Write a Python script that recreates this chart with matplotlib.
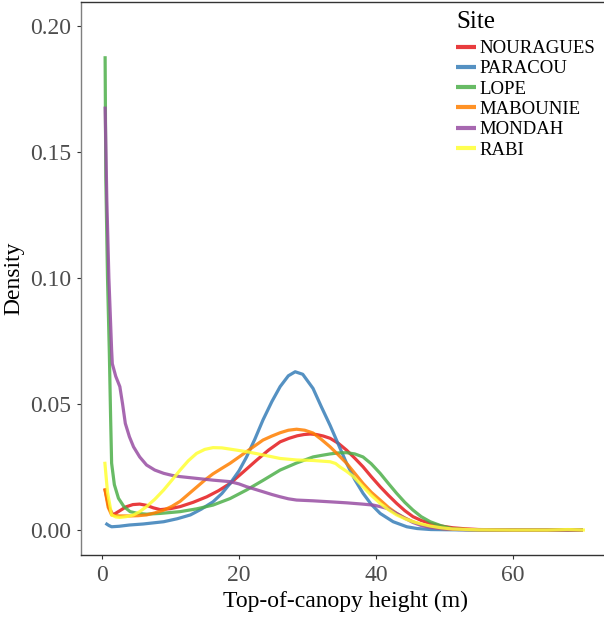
import matplotlib
matplotlib.use("Agg")
import matplotlib.pyplot as plt

plt.rcParams['font.family'] = ['Liberation Serif', 'DejaVu Serif']

sites = ["NOURAGUES", "PARACOU", "LOPE", "MABOUNIE", "MONDAH", "RABI"]
colors = ["#E41A1C", "#377EB8", "#4DAF4A", "#FF7F00", "#984EA3", "#FFFF33"]

nouragues_x = [0.4, 1.0, 1.6, 2.5, 3.5, 4.5, 5.5, 6.5, 7.5, 8.5, 10, 11.4, 13.3, 15.3, 17, 18.7, 20.6, 22.6, 24.3, 26, 27.3, 28.5, 29.5, 30.4, 31.3, 32.3, 33.3, 34.5, 35.7, 36.9, 38.1, 39.3, 40.6, 41.8, 43, 44.2, 45.4, 46.6, 47.9, 49.5, 51.2, 53, 55, 58, 62, 70.2]
nouragues_y = [0.0165, 0.009, 0.006, 0.0075, 0.0092, 0.0101, 0.0103, 0.0098, 0.0088, 0.0081, 0.0085, 0.0093, 0.011, 0.0132, 0.0156, 0.0185, 0.023, 0.0278, 0.0317, 0.035, 0.0364, 0.0374, 0.0379, 0.0381, 0.0379, 0.0373, 0.0364, 0.0344, 0.0317, 0.0285, 0.0251, 0.0212, 0.0172, 0.0138, 0.0106, 0.0077, 0.0053, 0.0038, 0.0026, 0.0016, 0.0009, 0.0005, 0.0002, 0.0001, 0, 0]

paracou_x = [0.5, 1.0, 1.4, 2.5, 4, 6, 9, 11, 12.9, 14.5, 16.2, 17.5, 18.7, 20, 21.1, 22.3, 23.5, 24.8, 26, 27.2, 28.2, 29.3, 30.8, 32, 33.3, 34.5, 35.7, 36.9, 38.1, 39.3, 40.6, 42.5, 44.5, 46, 48, 51, 55, 62, 70.2]
paracou_y = [0.0027, 0.0018, 0.0013, 0.0015, 0.002, 0.0024, 0.0033, 0.0045, 0.006, 0.0083, 0.0112, 0.0145, 0.0185, 0.0235, 0.029, 0.036, 0.0437, 0.051, 0.0569, 0.0612, 0.0628, 0.0618, 0.0562, 0.049, 0.0415, 0.034, 0.0265, 0.02, 0.0146, 0.0102, 0.0066, 0.0033, 0.0013, 0.0006, 0.0002, 0.0001, 0, 0, 0]

lope_x = [0.45, 0.55, 0.8, 1.07, 1.25, 1.4, 1.8, 2.4, 3.2, 4.1, 5.2, 6.5, 8.5, 11.4, 13.8, 16.2, 18.7, 21.1, 23.5, 26, 28.4, 30.8, 32, 33.3, 34.5, 35.7, 36.9, 38.1, 39.3, 40.6, 41.8, 43, 44.2, 45.4, 46.6, 47.9, 49.5, 51.2, 53, 55, 60, 70.2]
lope_y = [0.188, 0.14, 0.1, 0.07, 0.045, 0.0265, 0.018, 0.0126, 0.0093, 0.0073, 0.0066, 0.0063, 0.0066, 0.0073, 0.0084, 0.0099, 0.0125, 0.0159, 0.0197, 0.0238, 0.0266, 0.029, 0.0296, 0.0302, 0.0306, 0.0307, 0.0302, 0.029, 0.0263, 0.0225, 0.0185, 0.0146, 0.011, 0.0079, 0.0053, 0.0033, 0.0017, 0.0005, 0.0002, 0.0001, 0, 0]

mabounie_x = [0.4, 0.9, 1.4, 2.5, 4.1, 5.3, 6.5, 7.7, 9, 10.2, 11.4, 12.6, 13.8, 15, 16.2, 17.5, 18.7, 19.9, 21.1, 22.3, 23.5, 24.8, 26, 27.2, 28.4, 29.6, 30.8, 32, 33.3, 34.5, 35.7, 36.9, 38.1, 39.3, 40.6, 41.8, 43, 44.2, 45.4, 46.6, 47.9, 49.5, 51.2, 55, 60, 70.2]
mabounie_y = [0.0165, 0.009, 0.006, 0.0056, 0.0056, 0.0057, 0.006, 0.0068, 0.0079, 0.0094, 0.0114, 0.0142, 0.017, 0.0198, 0.0223, 0.0245, 0.0265, 0.0288, 0.0311, 0.0334, 0.0357, 0.0373, 0.0386, 0.0396, 0.04, 0.0396, 0.0385, 0.036, 0.033, 0.0298, 0.0265, 0.0225, 0.0185, 0.015, 0.0119, 0.009, 0.0066, 0.0048, 0.0033, 0.0022, 0.0013, 0.0006, 0.0003, 0.0001, 0, 0]

mondah_x = [0.45, 0.7, 1.0, 1.4, 1.5, 2.0, 2.6, 3.0, 3.4, 4.0, 4.6, 5.5, 6.5, 7.7, 9, 10.2, 11.4, 13.8, 16.2, 18.7, 20, 21.1, 22.3, 23.5, 24.8, 26, 27.2, 28.4, 30.8, 33.3, 35.7, 38, 39.6, 40.6, 41.6, 42.3, 43, 44.2, 45.4, 46.6, 48, 50, 52, 56, 60, 70.2]
mondah_y = [0.168, 0.131, 0.1, 0.0714, 0.066, 0.061, 0.0569, 0.05, 0.0423, 0.037, 0.033, 0.029, 0.0258, 0.0238, 0.0225, 0.0217, 0.0212, 0.0205, 0.0198, 0.0192, 0.0183, 0.0172, 0.0162, 0.0152, 0.0141, 0.0132, 0.0124, 0.0119, 0.0116, 0.0112, 0.0108, 0.0103, 0.0099, 0.0093, 0.0086, 0.0076, 0.0066, 0.0047, 0.003, 0.0018, 0.001, 0.0005, 0.0002, 0.0001, 0, 0]

rabi_x = [0.4, 0.8, 1.4, 2.0, 2.6, 3.5, 4.6, 5.5, 6.5, 7.7, 9, 10.2, 11.4, 12.6, 13.8, 15, 16.2, 17.5, 18.7, 21.1, 23.5, 26, 28.4, 30.8, 33.3, 34.1, 34.7, 35.7, 36.7, 38.1, 39.3, 40.6, 41.8, 43, 44.2, 45.4, 46.6, 47.9, 49.5, 51.2, 55, 60, 65, 68, 70.5]
rabi_y = [0.0271, 0.015, 0.006, 0.0052, 0.005, 0.0053, 0.006, 0.0073, 0.0093, 0.0122, 0.0159, 0.0198, 0.0238, 0.0275, 0.0304, 0.032, 0.0327, 0.0326, 0.0321, 0.0311, 0.0298, 0.0284, 0.0278, 0.0276, 0.0271, 0.0264, 0.0251, 0.0233, 0.0212, 0.0172, 0.0138, 0.0106, 0.0081, 0.006, 0.0045, 0.0033, 0.0024, 0.0016, 0.0009, 0.0004, 0.0001, 0, 0, 0.0002, 0]

series_x = [nouragues_x, paracou_x, lope_x, mabounie_x, mondah_x, rabi_x]
series_y = [nouragues_y, paracou_y, lope_y, mabounie_y, mondah_y, rabi_y]

x_ticks = [0, 20, 40, 60]
y_ticks = [0.00, 0.05, 0.10, 0.15, 0.20]
y_tick_labels = ["0.00", "0.05", "0.10", "0.15", "0.20"]

fig = plt.figure(figsize=(6.04, 6.19), dpi=100)
ax = fig.add_axes([81 / 604, 1 - 555 / 619, (610 - 81) / 604, (555 - 2) / 619])
ax.patch.set_visible(False)

for name, c, xs, ys in zip(sites, colors, series_x, series_y):
    ax.plot(xs, ys, color=c, lw=2.3, alpha=0.85, label=name,
            solid_capstyle='butt', solid_joinstyle='round')

ax.set_xlim(-3.07, -3.07 + 529 / 6.85)
ax.set_ylim(-0.0099, 0.2095)
ax.set_xticks(x_ticks)
ax.set_yticks(y_ticks)
ax.set_yticklabels(y_tick_labels)
ax.tick_params(direction='out', length=3, width=0.8, color='#333333',
               labelsize=17, labelcolor='#4D4D4D', pad=4)
ax.spines['right'].set_visible(False)
ax.spines['right'].set_color('none')
ax.spines['right'].set_linewidth(0)
ax.spines['top'].set_color('#333333')
ax.spines['left'].set_color('#7F7F7F')
ax.spines['bottom'].set_color('#333333')
for s in ['top', 'left', 'bottom']:
    ax.spines[s].set_linewidth(1.0)

ax.set_xlabel("Top-of-canopy height (m)", fontsize=17, color='black', labelpad=4)
ax.set_ylabel("Density", fontsize=17, color='black', labelpad=4)

leg = ax.legend(title="Site", loc='upper left', bbox_to_anchor=(456 / 604, 1 - 11 / 619),
                bbox_transform=fig.transFigure, frameon=False, fontsize=13.5,
                title_fontsize=18, handlelength=1.05, handletextpad=0.2,
                labelspacing=0.17, borderpad=0, borderaxespad=0)
leg._legend_box.align = "left"
leg._legend_box.sep = 5
for lh in leg.get_lines():
    lh.set_linewidth(3)
    lh.set_alpha(0.85)

fig.savefig("out.png", dpi=100)
